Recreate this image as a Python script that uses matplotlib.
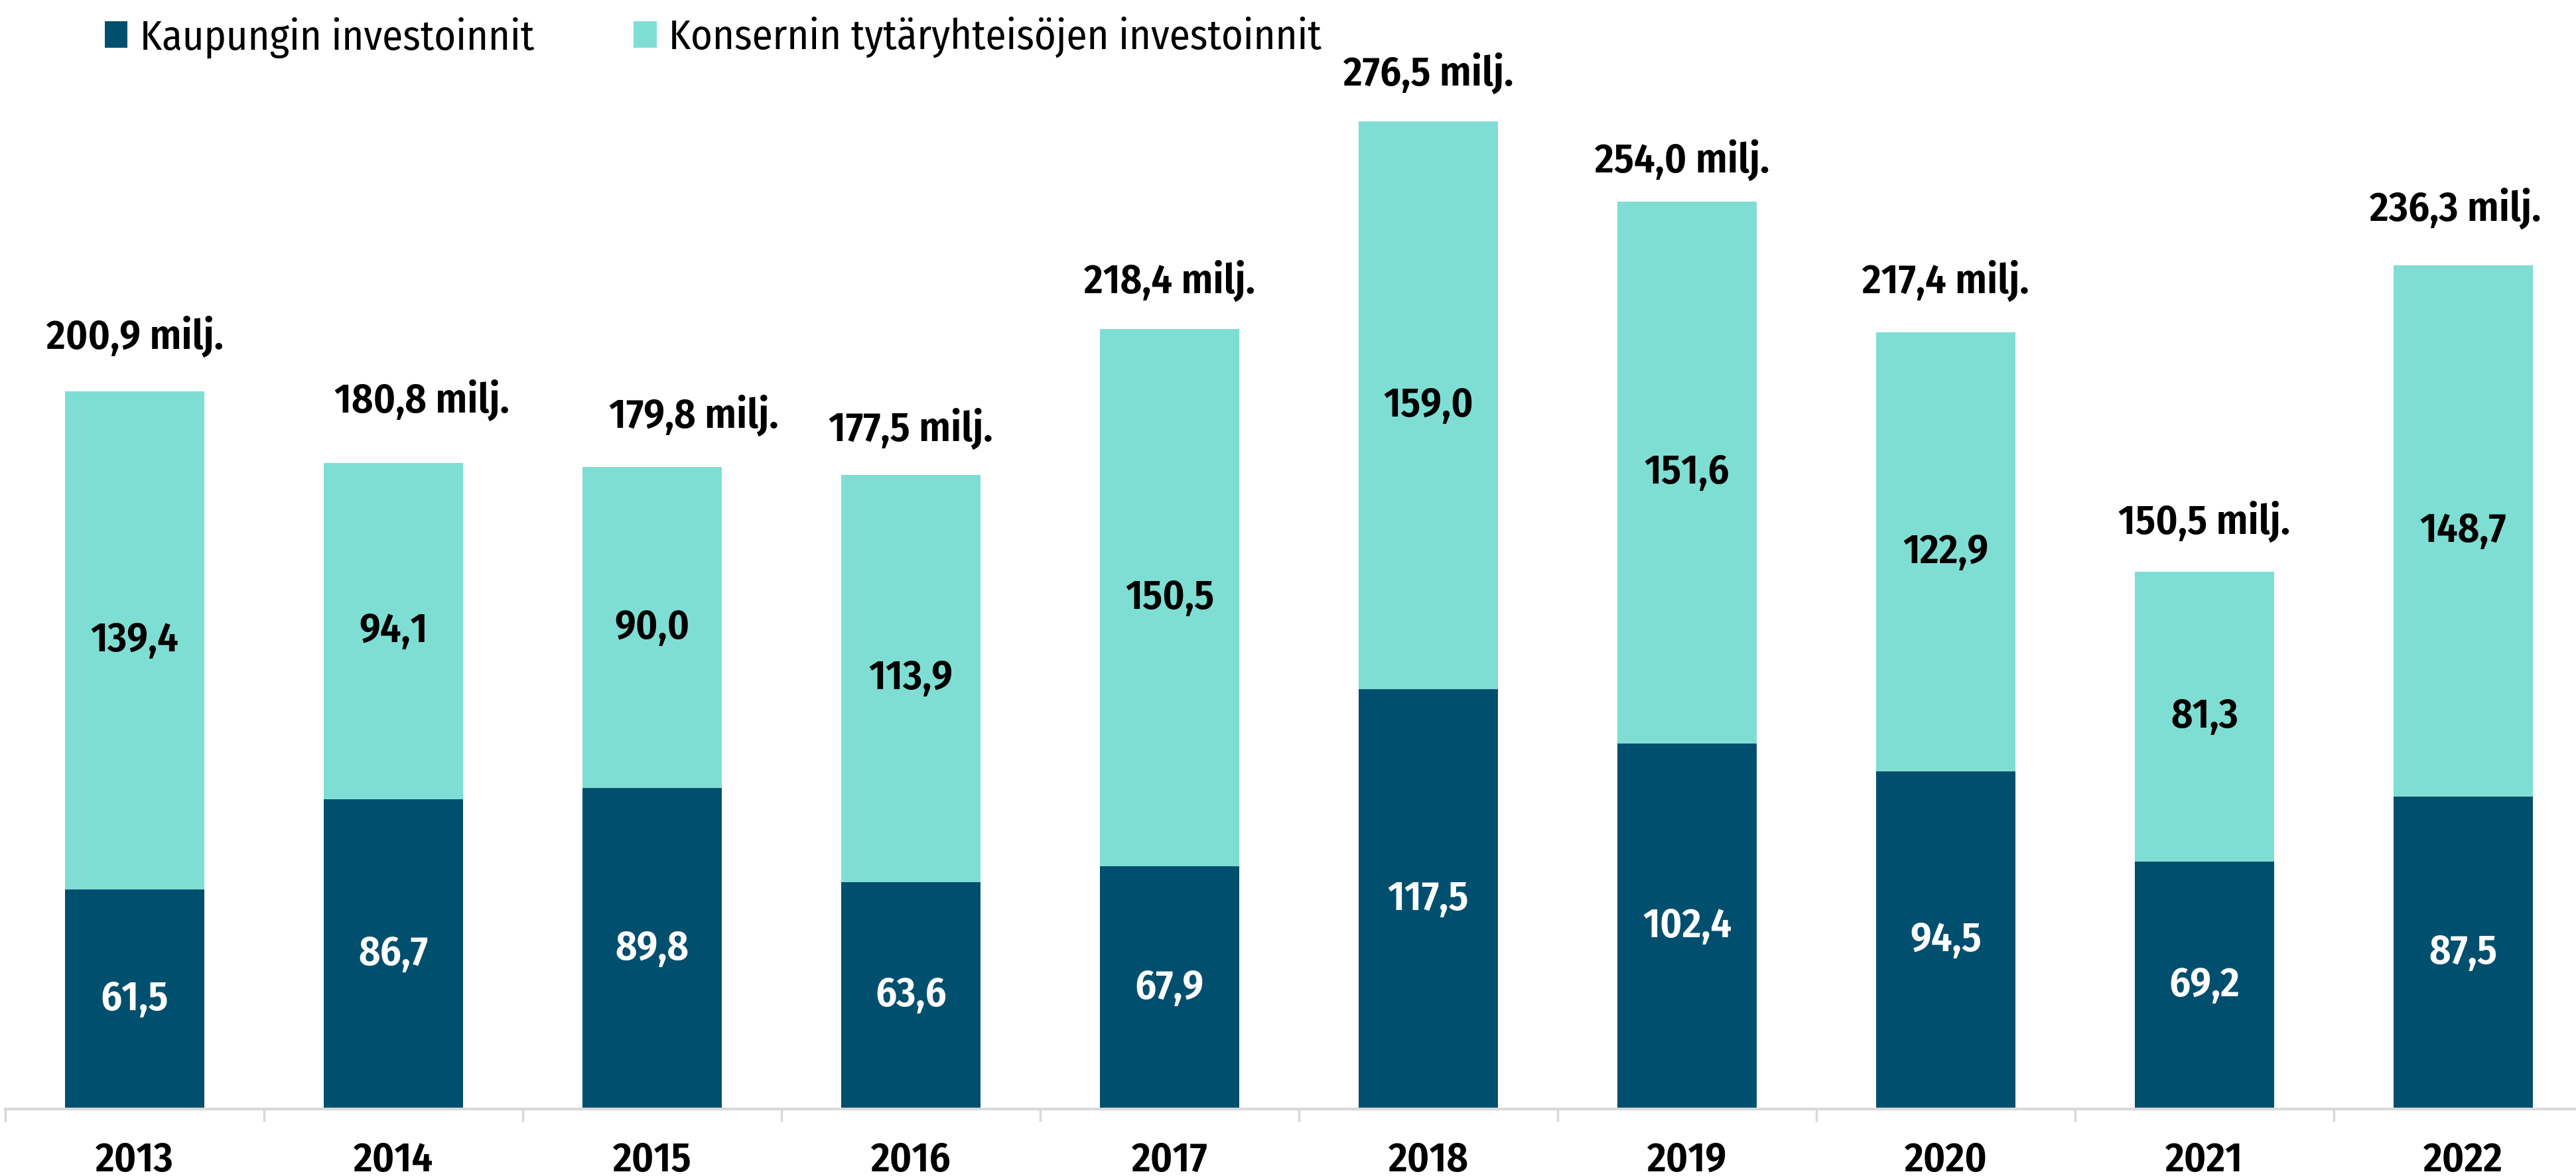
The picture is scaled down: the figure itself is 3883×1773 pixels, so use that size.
import matplotlib
matplotlib.use("Agg")
import matplotlib.pyplot as plt
from matplotlib.ticker import FixedLocator
import numpy as np

# data
years = ["2013", "2014", "2015", "2016", "2017", "2018", "2019", "2020", "2021", "2022"]
kaupunki = [61.5, 86.7, 89.8, 63.6, 67.9, 117.5, 102.4, 94.5, 69.2, 87.5]
konserni = [139.4, 94.1, 90.0, 113.9, 150.5, 159.0, 151.6, 122.9, 81.3, 148.7]
totals = [200.9, 180.8, 179.8, 177.5, 218.4, 276.5, 254.0, 217.4, 150.5, 236.3]
series_names = ["Kaupungin investoinnit", "Konsernin tytäryhteisöjen investoinnit"]

# total labels were dragged by hand in the original -> small nudges
total_dx = [0.0, 0.11, 0.16, 0.0, 0.0, 0.0, -0.02, 0.0, 0.0, -0.03]
total_dy = [15.2, 17.5, 14.3, 12.9, 13.4, 13.4, 11.5, 14.3, 13.8, 15.7]

dark = "#004F6E"
light = "#7FDED4"
grey = "#D9D9D9"

plt.rcParams["font.family"] = ["Fira Sans Condensed", "DejaVu Sans"]

W, H, DPI = 3883, 1773, 100
fig = plt.figure(figsize=(W / DPI, H / DPI), dpi=DPI)
ax = fig.add_axes([8 / W, 101 / H, 3900 / W, 1672 / H])

def fmt(v):
    return ("%.1f" % v).replace(".", ",")

x = np.arange(len(years))
ax.bar(x, kaupunki, width=0.54, color=dark, label=series_names[0])
ax.bar(x, konserni, width=0.54, bottom=kaupunki, color=light, label=series_names[1])

fs = 45
wt = 600
for i in range(len(years)):
    ax.text(x[i], kaupunki[i] / 2, fmt(kaupunki[i]), ha="center", va="center",
            color="white", fontsize=fs, fontweight=wt)
    ax.text(x[i], kaupunki[i] + konserni[i] / 2, fmt(konserni[i]), ha="center",
            va="center", color="black", fontsize=fs, fontweight=wt)
    ax.text(x[i] + total_dx[i], totals[i] + total_dy[i], fmt(totals[i]) + " milj.",
            ha="center", va="center", color="black", fontsize=fs, fontweight=wt)

ax.set_xlim(-0.5, 9.5)
ax.set_ylim(0, 310.5)
ax.set_yticks([])
for s in ["left", "right", "top"]:
    ax.spines[s].set_visible(False)
ax.spines["bottom"].set_color(grey)
ax.spines["bottom"].set_linewidth(3)

ax.set_xticks(x)
ax.set_xticklabels(years, fontsize=fs, fontweight=wt)
ax.tick_params(axis="x", which="major", length=0, pad=34)
ax.xaxis.set_minor_locator(FixedLocator(np.arange(-0.5, 10, 1.0)))
ax.tick_params(axis="x", which="minor", length=14, width=2.5, color=grey)

ax.legend(loc="upper left", bbox_to_anchor=(0.032, 1.0), ncol=2, frameon=False,
          prop={"size": fs, "weight": 400}, handlelength=0.55, handleheight=0.6,
          handletextpad=0.3, columnspacing=2.4, borderaxespad=0.0)

fig.savefig("out.png", dpi=DPI)
